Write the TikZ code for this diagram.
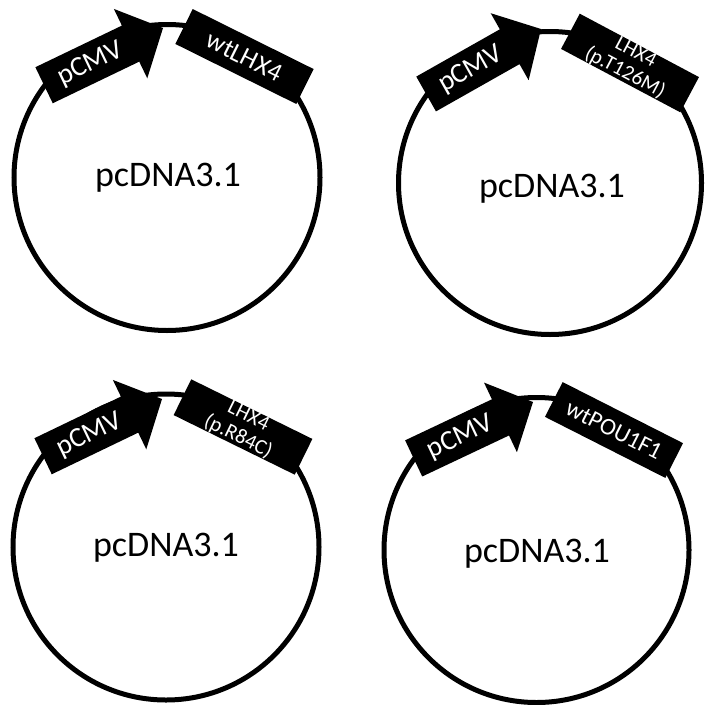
\documentclass[tikz,border=0pt]{standalone}
\usepackage{fontspec}
\setmainfont{Carlito}
\begin{document}
\begin{tikzpicture}[x=1pt,y=-1pt,line join=miter,
    backbone/.style={line width=5pt},
    vector/.style={inner sep=0pt,font=\fontsize{36}{40}\selectfont},
    tag/.style={text=white,inner sep=0pt,font=\fontsize{28}{30}\selectfont},
    insert/.style={fill=black,text=white,inner sep=0pt,minimum width=135pt,minimum height=39pt,align=center}]
  \useasboundingbox (0,0) rectangle (706,704);
  % circle centre/radius, name position, promoter tip/angle, insert centre/angle/size/label
  \foreach \i/\cx/\cy/\r/\vx/\vy/\tx/\ty/\pa/\gx/\gy/\ga/\fs/\gene in {
      1/167/177.5/153/168/177.5/163/28/25.7/244.5/56.5/-26.4/26/{wtLHX4},
      2/550/183/151.5/552/189/541/29/29.5/630/63/-28/21/{LHX4\\(p.T126M)},
      3/166/547/153/166/548/162/399/25.7/243/427/-26.2/21/{LHX4\\(p.R84C)},
      4/536.5/550/152.5/537/554/533/402/25.3/614/430/-26.9/24/{wtPOU1F1}}{
    \draw[backbone] (\cx,\cy) circle (\r);
    \node[vector] (vec\i) at (\vx,\vy) {pcDNA3.1};
    \begin{scope}[shift={(\tx,\ty)},rotate=\pa]
      \fill (0,0)--(-36,38.5)--(-36,20)--(-132,20)--(-132,-20)--(-36,-20)--(-36,-38.5)--cycle;
      \node[tag,rotate=\pa] (cmv\i) at (-81,1) {pCMV};
    \end{scope}
    \node[insert,rotate=\ga,font=\fontsize{\fs}{23}\selectfont] (ins\i) at (\gx,\gy) {\gene};
  }
\end{tikzpicture}
\end{document}
